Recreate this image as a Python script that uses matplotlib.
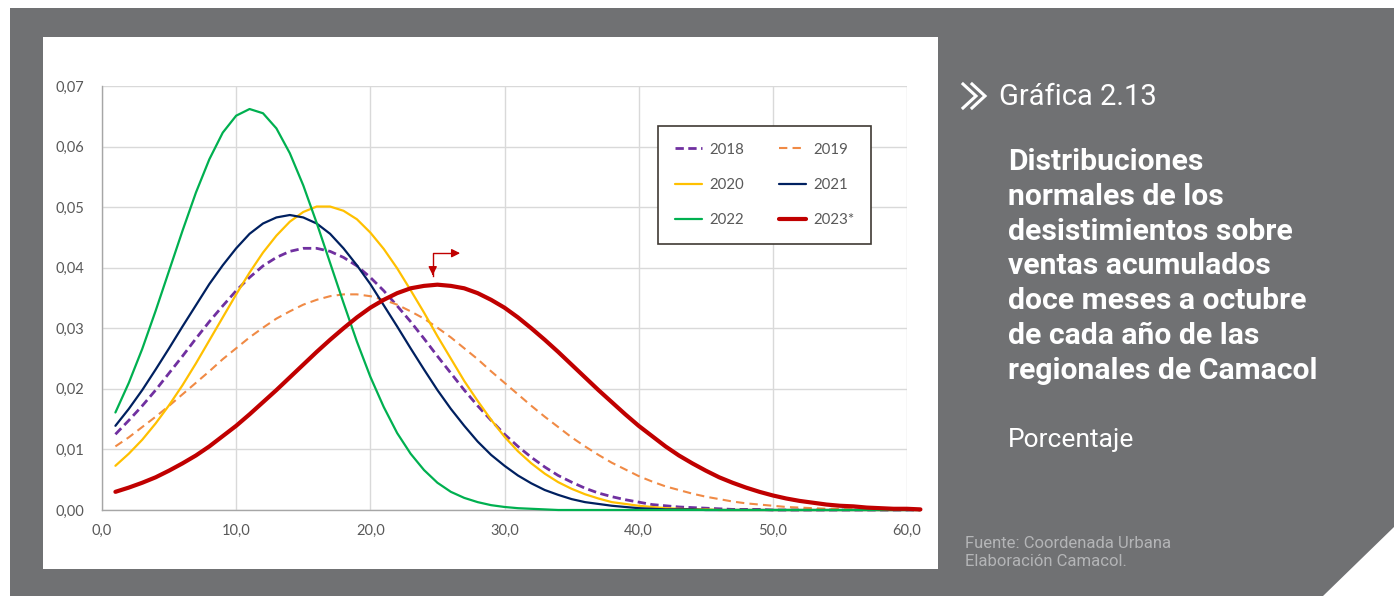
import matplotlib
matplotlib.use("Agg")
import matplotlib.pyplot as plt
from matplotlib.patches import Polygon, Rectangle
from matplotlib.lines import Line2D

# ---------------- data ----------------
x_vals = list(range(1, 62))

s2018 = [0.0125, 0.0148, 0.0172, 0.0198, 0.0226, 0.0254, 0.0283, 0.0311, 0.0337, 0.0362,
         0.0384, 0.0403, 0.0417, 0.0427, 0.0432, 0.0432, 0.0427, 0.0417, 0.0403, 0.0384,
         0.0362, 0.0337, 0.0311, 0.0283, 0.0254, 0.0226, 0.0198, 0.0172, 0.0148, 0.0125,
         0.0105, 0.0087, 0.0071, 0.0057, 0.0046, 0.0036, 0.0028, 0.0022, 0.0017, 0.0013,
         0.0009, 0.0007, 0.0005, 0.0004, 0.0003, 0.0002, 0.0001, 0.0001, 0.0001, 0.0000,
         0.0000, 0.0000, 0.0000, 0.0000, 0.0000, 0.0000, 0.0000, 0.0000, 0.0000, 0.0000,
         0.0000]

s2019 = [0.0105, 0.0120, 0.0137, 0.0154, 0.0172, 0.0191, 0.0210, 0.0229, 0.0249, 0.0267,
         0.0285, 0.0301, 0.0316, 0.0328, 0.0339, 0.0347, 0.0353, 0.0356, 0.0356, 0.0353,
         0.0347, 0.0339, 0.0328, 0.0316, 0.0301, 0.0285, 0.0267, 0.0249, 0.0229, 0.0210,
         0.0191, 0.0172, 0.0154, 0.0137, 0.0120, 0.0105, 0.0091, 0.0078, 0.0067, 0.0056,
         0.0047, 0.0039, 0.0033, 0.0027, 0.0022, 0.0018, 0.0014, 0.0011, 0.0009, 0.0007,
         0.0005, 0.0004, 0.0003, 0.0002, 0.0002, 0.0001, 0.0001, 0.0001, 0.0001, 0.0000,
         0.0000]

s2020 = [0.0073, 0.0093, 0.0116, 0.0143, 0.0173, 0.0206, 0.0242, 0.0280, 0.0318, 0.0356,
         0.0392, 0.0425, 0.0453, 0.0476, 0.0492, 0.0501, 0.0501, 0.0494, 0.0480, 0.0458,
         0.0431, 0.0399, 0.0363, 0.0326, 0.0287, 0.0250, 0.0213, 0.0180, 0.0149, 0.0121,
         0.0097, 0.0077, 0.0060, 0.0046, 0.0035, 0.0026, 0.0019, 0.0013, 0.0010, 0.0007,
         0.0005, 0.0003, 0.0002, 0.0001, 0.0001, 0.0000, 0.0000, 0.0000, 0.0000, 0.0000,
         0.0000, 0.0000, 0.0000, 0.0000, 0.0000, 0.0000, 0.0000, 0.0000, 0.0000, 0.0000,
         0.0000]

s2021 = [0.0139, 0.0167, 0.0198, 0.0232, 0.0267, 0.0303, 0.0338, 0.0373, 0.0404, 0.0432,
         0.0456, 0.0473, 0.0483, 0.0487, 0.0483, 0.0473, 0.0456, 0.0432, 0.0404, 0.0373,
         0.0338, 0.0303, 0.0267, 0.0232, 0.0198, 0.0167, 0.0139, 0.0113, 0.0091, 0.0073,
         0.0057, 0.0044, 0.0033, 0.0025, 0.0018, 0.0013, 0.0010, 0.0007, 0.0005, 0.0003,
         0.0002, 0.0001, 0.0001, 0.0001, 0.0000, 0.0000, 0.0000, 0.0000, 0.0000, 0.0000,
         0.0000, 0.0000, 0.0000, 0.0000, 0.0000, 0.0000, 0.0000, 0.0000, 0.0000, 0.0000,
         0.0000]

s2022 = [0.0161, 0.0210, 0.0266, 0.0329, 0.0395, 0.0461, 0.0524, 0.0579, 0.0623, 0.0651,
         0.0662, 0.0655, 0.0630, 0.0589, 0.0536, 0.0474, 0.0408, 0.0342, 0.0278, 0.0220,
         0.0170, 0.0127, 0.0093, 0.0066, 0.0045, 0.0030, 0.0020, 0.0013, 0.0008, 0.0005,
         0.0003, 0.0002, 0.0001, 0.0000, 0.0000, 0.0000, 0.0000, 0.0000, 0.0000, 0.0000,
         0.0000, 0.0000, 0.0000, 0.0000, 0.0000, 0.0000, 0.0000, 0.0000, 0.0000, 0.0000,
         0.0000, 0.0000, 0.0000, 0.0000, 0.0000, 0.0000, 0.0000, 0.0000, 0.0000, 0.0000,
         0.0000]

s2023 = [0.0030, 0.0037, 0.0045, 0.0054, 0.0065, 0.0077, 0.0090, 0.0105, 0.0122, 0.0139,
         0.0158, 0.0178, 0.0198, 0.0219, 0.0240, 0.0261, 0.0281, 0.0300, 0.0318, 0.0334,
         0.0347, 0.0358, 0.0366, 0.0370, 0.0372, 0.0370, 0.0366, 0.0358, 0.0347, 0.0334,
         0.0318, 0.0300, 0.0281, 0.0261, 0.0240, 0.0219, 0.0198, 0.0178, 0.0158, 0.0139,
         0.0122, 0.0105, 0.0090, 0.0077, 0.0065, 0.0054, 0.0045, 0.0037, 0.0030, 0.0024,
         0.0019, 0.0015, 0.0012, 0.0009, 0.0007, 0.0006, 0.0004, 0.0003, 0.0002, 0.0002,
         0.0001]

series_labels = ["2018", "2019", "2020", "2021", "2022", "2023*"]
x_ticks = [0, 10, 20, 30, 40, 50, 60]
y_ticks = [0.00, 0.01, 0.02, 0.03, 0.04, 0.05, 0.06, 0.07]

# ---------------- figure ----------------
W, H = 1394, 596
fig = plt.figure(figsize=(W / 100, H / 100), dpi=100)
fig.patch.set_facecolor("white")

def fx(px):
    return px / W

def fy(py):
    return 1 - py / H

GRAY = "#707173"
bg = Polygon([(fx(10), fy(8)), (fx(1394), fy(8)), (fx(1394), fy(527)),
              (fx(1323), fy(596)), (fx(10), fy(596))],
             closed=True, transform=fig.transFigure, facecolor=GRAY,
             edgecolor="none", zorder=0)
fig.patches.append(bg)
panel = Rectangle((fx(43), fy(569)), fx(938) - fx(43), fy(37) - fy(569),
                  transform=fig.transFigure, facecolor="white",
                  edgecolor="none", zorder=1)
fig.patches.append(panel)

ax = fig.add_axes([fx(102), fy(510), fx(907) - fx(102), fy(86) - fy(510)])
ax.set_zorder(2)
ax.set_facecolor("white")

styles = [
    dict(color="#7030A0", lw=2.0, ls=(0, (3, 1.6))),
    dict(color="#F08A45", lw=1.5, ls=(0, (4, 2.5))),
    dict(color="#FFC000", lw=1.6, ls="-"),
    dict(color="#002060", lw=1.6, ls="-"),
    dict(color="#00B050", lw=1.6, ls="-"),
    dict(color="#C00000", lw=3.0, ls="-"),
]
data = [s2018, s2019, s2020, s2021, s2022, s2023]
handles = []
for vals, lab, st in zip(data, series_labels, styles):
    (h,) = ax.plot(x_vals, vals, label=lab, color=st["color"], lw=st["lw"],
                   linestyle=st["ls"], clip_on=False, zorder=3,
                   solid_capstyle="round", solid_joinstyle="round",
                   dash_capstyle="butt")
    handles.append(h)

ax.set_xlim(0, 60)
ax.set_ylim(0, 0.07)
ax.set_xticks(x_ticks)
ax.set_yticks(y_ticks)
ax.set_xticklabels([f"{v:.1f}".replace(".", ",") for v in x_ticks])
ax.set_yticklabels([f"{v:.2f}".replace(".", ",") for v in y_ticks])
ax.grid(True, color="#D9D9D9", lw=1.0)
ax.set_axisbelow(True)
for s in ["top", "right"]:
    ax.spines[s].set_visible(False)
for s in ["left", "bottom"]:
    ax.spines[s].set_color("#A6A6A6")
    ax.spines[s].set_linewidth(1.0)
ax.tick_params(axis="both", length=0, labelsize=10.5, labelcolor="#595959")
ax.tick_params(axis="y", pad=13)
ax.tick_params(axis="x", pad=10)
for lbl in ax.get_xticklabels() + ax.get_yticklabels():
    lbl.set_fontfamily("Lato")

# arrow annotation near the 2023 peak
ax.plot([24.65, 24.65, 26.3], [0.0386, 0.0424, 0.0424], color="#C00000",
        lw=1.0, zorder=4, clip_on=False)
ax.annotate("", xy=(24.65, 0.0383), xytext=(24.65, 0.0395),
            arrowprops=dict(arrowstyle="-|>,head_length=0.5,head_width=0.25",
                            color="#C00000", lw=1.0), zorder=4)
ax.annotate("", xy=(26.9, 0.0424), xytext=(26.2, 0.0424),
            arrowprops=dict(arrowstyle="-|>,head_length=0.5,head_width=0.25",
                            color="#C00000", lw=1.0), zorder=4)

# legend (row-wise order: 2018 2019 / 2020 2021 / 2022 2023*)
order = [0, 2, 4, 1, 3, 5]
leg = ax.legend([handles[i] for i in order], [series_labels[i] for i in order],
                ncol=2, loc="upper left",
                bbox_to_anchor=(fx(658), fy(126)), bbox_transform=fig.transFigure,
                frameon=True, fancybox=False, edgecolor="#3F3A33",
                framealpha=1.0, fontsize=10.8, handlelength=1.8,
                handletextpad=0.5, columnspacing=2.35, labelspacing=1.42,
                borderpad=1.1, borderaxespad=0)
leg.get_frame().set_linewidth(1.2)
for t in leg.get_texts():
    t.set_color("#595959")
    t.set_fontfamily("Lato")

# ---------------- right-hand text ----------------
for x0 in (963, 972):
    fig.add_artist(Line2D([fx(x0), fx(x0 + 13), fx(x0)],
                          [fy(84), fy(96), fy(108)],
                          transform=fig.transFigure, color="white", lw=2.2,
                          solid_joinstyle="miter", zorder=3))

fig.text(fx(999), fy(97), "Gráfica 2.13", color="white", fontsize=21,
         family="Roboto", va="center", ha="left", zorder=3)

title_lines = ["Distribuciones", "normales de los", "desistimientos sobre",
               "ventas acumulados", "doce meses a octubre",
               "de cada año de las", "regionales de Camacol"]
for i, line in enumerate(title_lines):
    fig.text(fx(1008), fy(162 + i * 34.8), line, color="white", fontsize=21.7,
             family="Roboto", fontweight="bold", va="center", ha="left", zorder=3)

fig.text(fx(1008), fy(440), "Porcentaje", color="white", fontsize=19,
         family="Roboto", va="center", ha="left", zorder=3)

fig.text(fx(965), fy(543), "Fuente: Coordenada Urbana", color="#B4B5B7",
         fontsize=12, family="Roboto", va="center", ha="left", zorder=3)
fig.text(fx(965), fy(562), "Elaboración Camacol.", color="#B4B5B7",
         fontsize=12, family="Roboto", va="center", ha="left", zorder=3)

fig.savefig("out.png", dpi=100, facecolor="white")
